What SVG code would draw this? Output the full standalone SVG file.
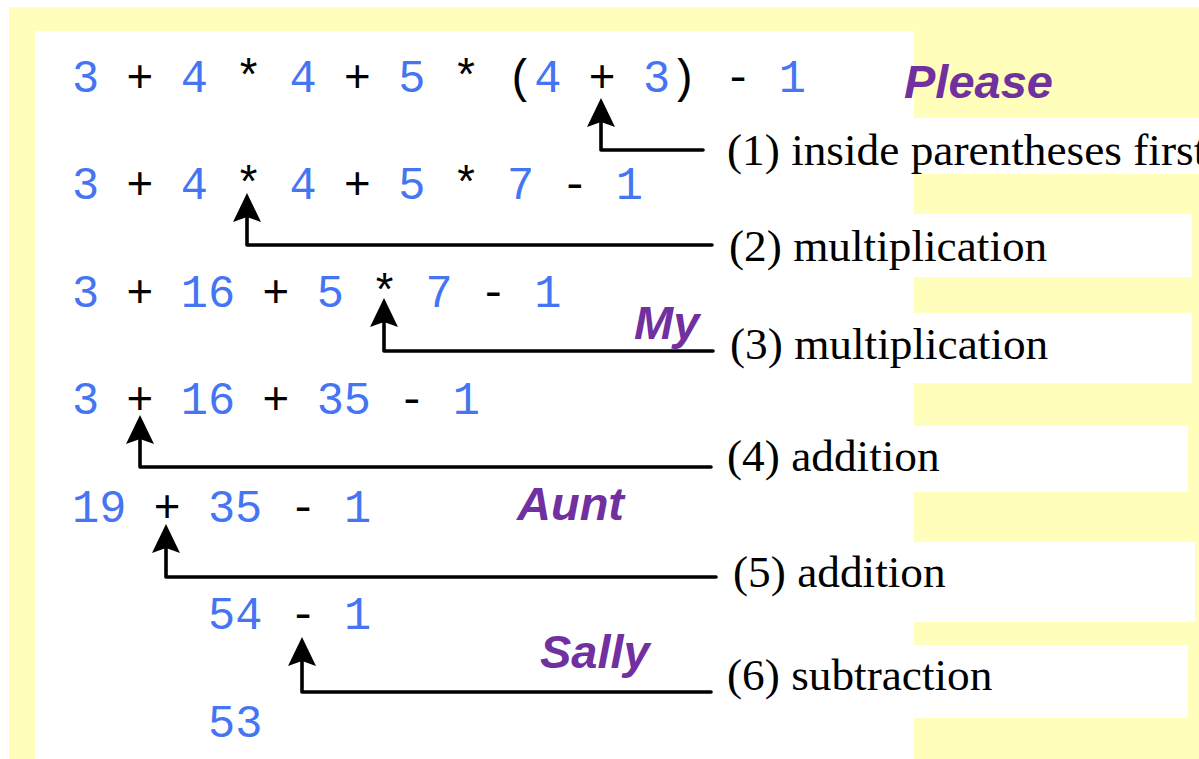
<svg xmlns="http://www.w3.org/2000/svg" width="1199" height="759" viewBox="0 0 1199 759">
  <style>
    .expr { font-family: "Liberation Mono", "Courier New", monospace; font-size: 45.3px; fill: #000; white-space: pre; }
    .n { fill: #4575F2; }
    .lbl { font-family: "Liberation Serif", "Times New Roman", serif; font-size: 45.3px; fill: #000; }
    .word { font-family: "Liberation Sans", Arial, sans-serif; font-size: 47px; font-weight: bold; font-style: italic; fill: #7030A0; }
    .conn { fill: none; stroke: #000; stroke-width: 3.6; stroke-linejoin: round; stroke-linecap: round; }
    .box { fill: #FFFFFF; }
  </style>
  <defs>
    <path id="head" d="M0,0 L-14,29 L0,24 L14,29 Z" fill="#000"/>
  </defs>

  <!-- page background and white work area -->
  <rect x="9" y="7" width="1190" height="752" fill="#FFFFBB"/>
  <rect x="35" y="31" width="879" height="728" class="box"/>

  <!-- white strips behind the step labels -->
  <rect x="900" y="118" width="299" height="56" class="box"/>
  <rect x="900" y="214" width="292" height="63" class="box"/>
  <rect x="900" y="313" width="292" height="70" class="box"/>
  <rect x="900" y="426" width="288" height="66" class="box"/>
  <rect x="900" y="542" width="295" height="80" class="box"/>
  <rect x="900" y="645" width="288" height="73" class="box"/>

  <!-- expression after each evaluation step -->
  <g id="expr-0"><text class="expr" x="72" y="92" xml:space="preserve"><tspan class="n">3</tspan> + <tspan class="n">4</tspan> * <tspan class="n">4</tspan> + <tspan class="n">5</tspan> * (<tspan class="n">4</tspan> + <tspan class="n">3</tspan>) - <tspan class="n">1</tspan></text></g>
  <g id="expr-1"><text class="expr" x="72" y="199" xml:space="preserve"><tspan class="n">3</tspan> + <tspan class="n">4</tspan> * <tspan class="n">4</tspan> + <tspan class="n">5</tspan> * <tspan class="n">7</tspan> - <tspan class="n">1</tspan></text></g>
  <g id="expr-2"><text class="expr" x="72" y="307" xml:space="preserve"><tspan class="n">3</tspan> + <tspan class="n">16</tspan> + <tspan class="n">5</tspan> * <tspan class="n">7</tspan> - <tspan class="n">1</tspan></text></g>
  <g id="expr-3"><text class="expr" x="72" y="414" xml:space="preserve"><tspan class="n">3</tspan> + <tspan class="n">16</tspan> + <tspan class="n">35</tspan> - <tspan class="n">1</tspan></text></g>
  <g id="expr-4"><text class="expr" x="72" y="522" xml:space="preserve"><tspan class="n">19</tspan> + <tspan class="n">35</tspan> - <tspan class="n">1</tspan></text></g>
  <g id="expr-5"><text class="expr" x="208" y="629" xml:space="preserve"><tspan class="n">54</tspan> - <tspan class="n">1</tspan></text></g>
  <g id="expr-6"><text class="expr" x="208" y="737"><tspan class="n">53</tspan></text></g>

  <!-- elbow connectors from each label to the operator it evaluates -->
  <g id="connectors">
    <path class="conn" d="M703,150 H601 V118"/>
    <use href="#head" x="601" y="98"/>
    <path class="conn" d="M712,245 H247 V213"/>
    <use href="#head" x="247" y="193"/>
    <path class="conn" d="M713,351 H384 V318"/>
    <use href="#head" x="384" y="298"/>
    <path class="conn" d="M711,467 H140 V435"/>
    <use href="#head" x="140" y="415"/>
    <path class="conn" d="M716,577 H166 V544"/>
    <use href="#head" x="166" y="524"/>
    <path class="conn" d="M711,692 H302 V657"/>
    <use href="#head" x="302" y="637"/>
  </g>

  <!-- step labels -->
  <g id="label-1"><text class="lbl" x="727" y="165">(1) inside parentheses first</text></g>
  <g id="label-2"><text class="lbl" x="729" y="261">(2) multiplication</text></g>
  <g id="label-3"><text class="lbl" x="730" y="359">(3) multiplication</text></g>
  <g id="label-4"><text class="lbl" x="727" y="471">(4) addition</text></g>
  <g id="label-5"><text class="lbl" x="733" y="587">(5) addition</text></g>
  <g id="label-6"><text class="lbl" x="727" y="690">(6) subtraction</text></g>

  <!-- mnemonic words -->
  <g id="word-please"><text class="word" x="904" y="98">Please</text></g>
  <g id="word-my"><text class="word" x="634" y="339">My</text></g>
  <g id="word-aunt"><text class="word" x="517" y="520">Aunt</text></g>
  <g id="word-sally"><text class="word" x="540" y="668">Sally</text></g>
</svg>
